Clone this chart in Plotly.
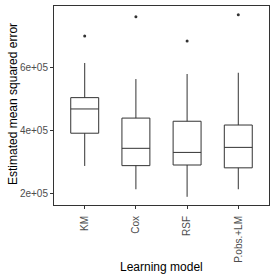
import plotly.graph_objects as go

models = ["KM", "Cox", "RSF", "P.obs.+LM"]
q1 = [3.90e5, 2.87e5, 2.89e5, 2.80e5]
median = [4.67e5, 3.42e5, 3.29e5, 3.45e5]
q3 = [5.03e5, 4.38e5, 4.28e5, 4.16e5]
lower_whisker = [2.86e5, 2.12e5, 1.88e5, 2.12e5]
upper_whisker = [6.13e5, 5.62e5, 5.78e5, 5.82e5]
outliers = [6.99e5, 7.60e5, 6.83e5, 7.66e5]

y_ticks = [2e5, 4e5, 6e5]
y_tick_labels = ["2e+05", "4e+05", "6e+05"]

dark = "#333333"
tick_text = "#4D4D4D"
font_family = "Liberation Sans, Arial, sans-serif"

W, H = 280, 280
ML, MR, MT, MB = 54, 11, 6, 75

fig = go.Figure()
fig.add_trace(go.Box(
    x=models, q1=q1, median=median, q3=q3,
    lowerfence=lower_whisker, upperfence=upper_whisker,
    fillcolor="white", line=dict(color=dark, width=1),
    whiskerwidth=0, boxpoints=False, hoverinfo="skip", showlegend=False,
))
fig.add_trace(go.Scatter(
    x=models, y=outliers, mode="markers",
    marker=dict(color=dark, size=3), hoverinfo="skip", showlegend=False,
))

pw = W - ML - MR
ph = H - MT - MB
fig.update_layout(
    width=W, height=H,
    margin=dict(l=ML, r=MR, t=MT, b=MB, autoexpand=False),
    paper_bgcolor="white", plot_bgcolor="white",
    boxgap=0.22,
    font=dict(family=font_family, color="black"),
    xaxis=dict(
        type="category", range=[-0.6, 3.6], automargin=False,
        showline=True, mirror=True, linecolor=dark, linewidth=1,
        showgrid=False, zeroline=False,
        ticks="outside", ticklen=3, tickcolor=dark, tickwidth=1,
        tickangle=-90, tickfont=dict(size=10, color=tick_text),
        ticklabelstandoff=3,
    ),
    yaxis=dict(
        range=[1.62e5, 7.94e5], automargin=False,
        tickvals=y_ticks, ticktext=y_tick_labels,
        showline=True, mirror=True, linecolor=dark, linewidth=1,
        showgrid=False, zeroline=False,
        ticks="outside", ticklen=3, tickcolor=dark, tickwidth=1,
        tickfont=dict(size=10, color=tick_text),
    ),
    annotations=[
        dict(text="Learning model", xref="paper", yref="paper",
             x=0.5, y=-(266.5 - MT - ph) / ph, xanchor="center", yanchor="middle",
             showarrow=False, font=dict(size=12, color="black")),
        dict(text="Estimated mean squared error", xref="paper", yref="paper",
             x=-(ML - 13) / pw, y=1 - (104 - MT) / ph, xanchor="center", yanchor="middle",
             textangle=-90, showarrow=False, font=dict(size=12, color="black")),
    ],
)

fig.write_html(
    "out.html",
    config={"displayModeBar": False},
    post_script="document.body.style.margin='0';document.body.style.padding='0';",
)
